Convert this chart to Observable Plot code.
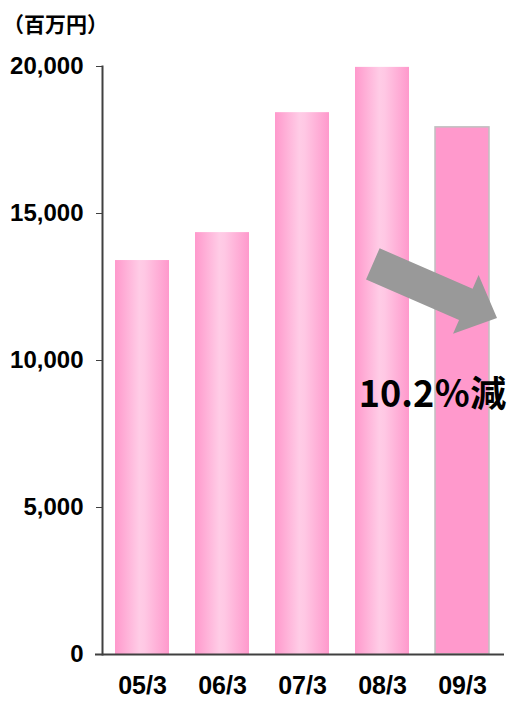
<!DOCTYPE html>
<html>
<head>
<meta charset="utf-8">
<script src="https://cdn.jsdelivr.net/npm/d3@7"></script>
<script src="https://cdn.jsdelivr.net/npm/@observablehq/plot@0.6"></script>
<style>
  html, body { margin: 0; padding: 0; background: #fff; }
  #wrap { position: relative; width: 512px; height: 701px; }
  #unit { position: absolute; left: 3px; top: 9px; font-family: "Noto Sans CJK JP", sans-serif; font-weight: bold; font-size: 21px; color: #000; line-height: 28px; z-index: 2; }
</style>
</head>
<body>
<div id="wrap"><div id="unit">（百万円）</div></div>
<script>
const periods = ["05/3", "06/3", "07/3", "08/3", "09/3"];
const sales = [13400, 14350, 18430, 19970, 17930];
const yTicks = [0, 5000, 10000, 15000, 20000];
const highlight = "09/3";

const data = periods.map((p, i) => ({period: p, value: sales[i]}));
const prev = sales[sales.length - 2], last = sales[sales.length - 1];
const changeLabel = d3.format(".1f")((prev - last) / prev * 100) + "％減";
// arrow anchor values (in data units)
const arrowFrom = {period: "08/3", value: 13270};
const arrowTo = {period: "09/3", value: 11430};

const tickFont = `"Liberation Sans", sans-serif`;

function defs() {
  const ns = "http://www.w3.org/2000/svg";
  const d = document.createElementNS(ns, "defs");
  const g = document.createElementNS(ns, "linearGradient");
  g.setAttribute("id", "pinkgrad");
  g.setAttribute("x1", "0"); g.setAttribute("x2", "1");
  g.setAttribute("y1", "0"); g.setAttribute("y2", "0");
  [[0, "#ff99cc"], [0.45, "#ffcce6"], [0.55, "#ffc8e4"], [1, "#ff99cc"]].forEach(([o, c]) => {
    const s = document.createElementNS(ns, "stop");
    s.setAttribute("offset", o);
    s.setAttribute("stop-color", c);
    g.appendChild(s);
  });
  d.appendChild(g);
  return d;
}

function arrowMark(index, scales) {
  const ns = "http://www.w3.org/2000/svg";
  const x = scales.x, y = scales.y;
  const bw = x.bandwidth ? x.bandwidth() : 54;
  const sx = x(arrowFrom.period) + bw * 0.33, sy = y(arrowFrom.value);
  const tx = x(arrowTo.period) + bw + 8, ty = y(arrowTo.value);
  const L = Math.hypot(tx - sx, ty - sy);
  const ux = (tx - sx) / L, uy = (ty - sy) / L;
  const nx = -uy, ny = ux;
  const hw = 17, hh = 32, hl = 34;
  const pt = (a, b) => [sx + ux * a + nx * b, sy + uy * a + ny * b];
  const pts = [pt(0, -hw), pt(L - hl, -hw), pt(L - hl, -hh), pt(L, 0), pt(L - hl, hh), pt(L - hl, hw), pt(0, hw)];
  const p = document.createElementNS(ns, "polygon");
  p.setAttribute("points", pts.map(q => q.join(",")).join(" "));
  p.setAttribute("fill", "#999999");
  return p;
}

const chart = Plot.plot({
  width: 512,
  height: 701,
  marginTop: 66,
  marginBottom: 47,
  marginLeft: 102,
  marginRight: 10,
  style: {background: "transparent", overflow: "visible"},
  x: {domain: periods, paddingInner: 0.325, paddingOuter: 0.1625, label: null},
  y: {domain: [0, 20000], label: null},
  marks: [
    defs,
    Plot.barY(data.filter(d => d.period !== highlight), {x: "period", y: "value", fill: "url(#pinkgrad)"}),
    Plot.barY(data.filter(d => d.period === highlight), {x: "period", y: "value", fill: "#ff99cc", stroke: "#c0c0c0", strokeWidth: 1.5}),
    Plot.frame({anchor: "left", stroke: "#404040", strokeWidth: 2}),
    Plot.ruleY([0], {stroke: "#404040", strokeWidth: 2, insetLeft: -7, insetRight: -2}),
    Plot.axisY({ticks: yTicks, tickFormat: d3.format(","), tickSize: 6, tickPadding: 13, stroke: "#404040",
      fontSize: 24, fontWeight: "bold", fontFamily: tickFont, fill: "#000"}),
    Plot.axisX({tickSize: 0, tickPadding: 22, fontSize: 25, fontWeight: "bold", fontFamily: tickFont, fill: "#000"}),
    arrowMark,
    Plot.text([{period: highlight, value: 8800}], {x: "period", y: "value", text: () => changeLabel, dx: -30,
      fontSize: 36, fontWeight: "bold", fontFamily: `"Noto Sans CJK JP", sans-serif`, fill: "#000"})
  ]
});
document.getElementById("wrap").appendChild(chart);
chart.style.position = "absolute";
chart.style.left = "0";
chart.style.top = "0";
</script>
</body>
</html>
